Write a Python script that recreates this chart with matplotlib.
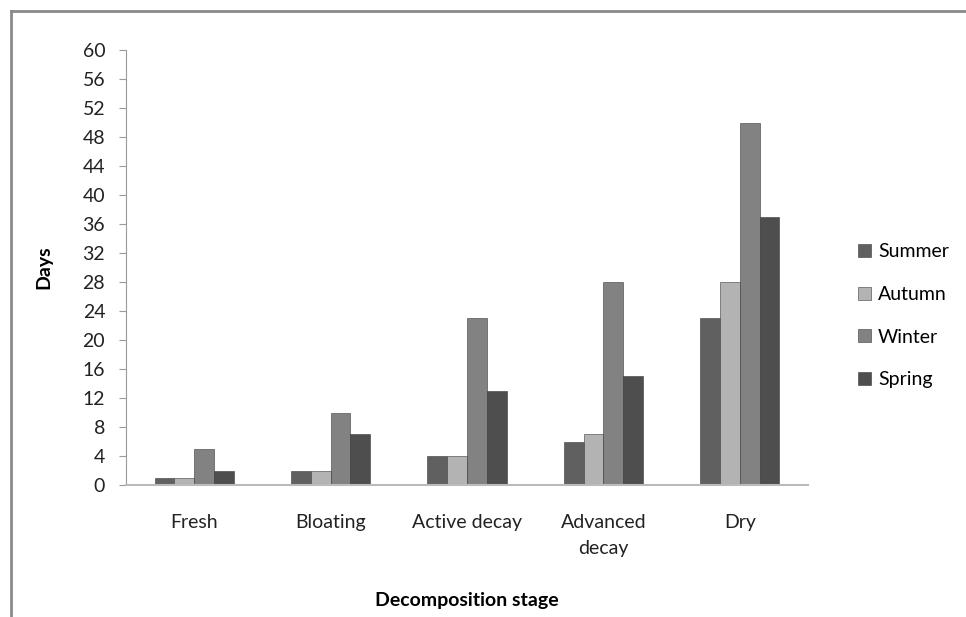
import matplotlib.pyplot as plt
import numpy as np
from matplotlib.lines import Line2D

stages = ['Fresh', 'Bloating', 'Active decay', 'Advanced\ndecay', 'Dry']
seasons = ['Summer', 'Autumn', 'Winter', 'Spring']
summer = [1, 2, 4, 6, 23]
autumn = [1, 2, 4, 7, 28]
winter = [5, 10, 23, 28, 50]
spring = [2, 7, 13, 15, 37]
colors = ['#606060', '#b3b3b3', '#828282', '#4e4e4e']

plt.rcParams['font.family'] = ['Lato', 'DejaVu Sans']

fig = plt.figure(figsize=(9.66, 6.17), dpi=100)
ax = fig.add_axes([126 / 966, 1 - 485 / 617, 682 / 966, 435 / 617])

x = np.arange(len(stages))
w = 0.145
for i, (name, vals) in enumerate(zip(seasons, [summer, autumn, winter, spring])):
    ax.bar(x + (i - 1.5) * w, vals, w, color=colors[i], edgecolor='#3a3a3a',
           linewidth=0.4, label=name, zorder=2)

ax.set_xlim(-0.5, len(stages) - 0.5)
ax.set_ylim(0, 60)
ax.set_yticks(np.arange(0, 61, 4))
ax.set_xticks(x)
ax.set_xticklabels(stages, fontsize=14, color='#222222', linespacing=1.65)
ax.tick_params(axis='x', length=0, pad=21)
ax.tick_params(axis='y', labelsize=14, labelcolor='#222222', length=5,
               color='#999999', pad=10)

for s in ['top', 'right']:
    ax.spines[s].set_visible(False)
ax.spines['left'].set_color('#999999')
ax.spines['bottom'].set_color('#bbbbbb')
ax.spines['bottom'].set_linewidth(1.5)

ax.set_ylabel('Days', fontsize=14, fontweight='bold', labelpad=22)
ax.set_xlabel('Decomposition stage', fontsize=14, fontweight='bold', labelpad=25)

ax.legend(loc='center left', bbox_to_anchor=(1.048, 0.389), frameon=False,
          fontsize=14, handlelength=0.67, handleheight=0.67, handletextpad=0.35,
          labelspacing=1.32)

# chart frame
fig.add_artist(Line2D([11 / 966, 11 / 966], [0, 1 - 11 / 617], color='#8a8a8a', lw=2))
fig.add_artist(Line2D([11 / 966, 1], [1 - 11 / 617, 1 - 11 / 617], color='#8a8a8a', lw=2))

fig.savefig('out.png', dpi=100)
